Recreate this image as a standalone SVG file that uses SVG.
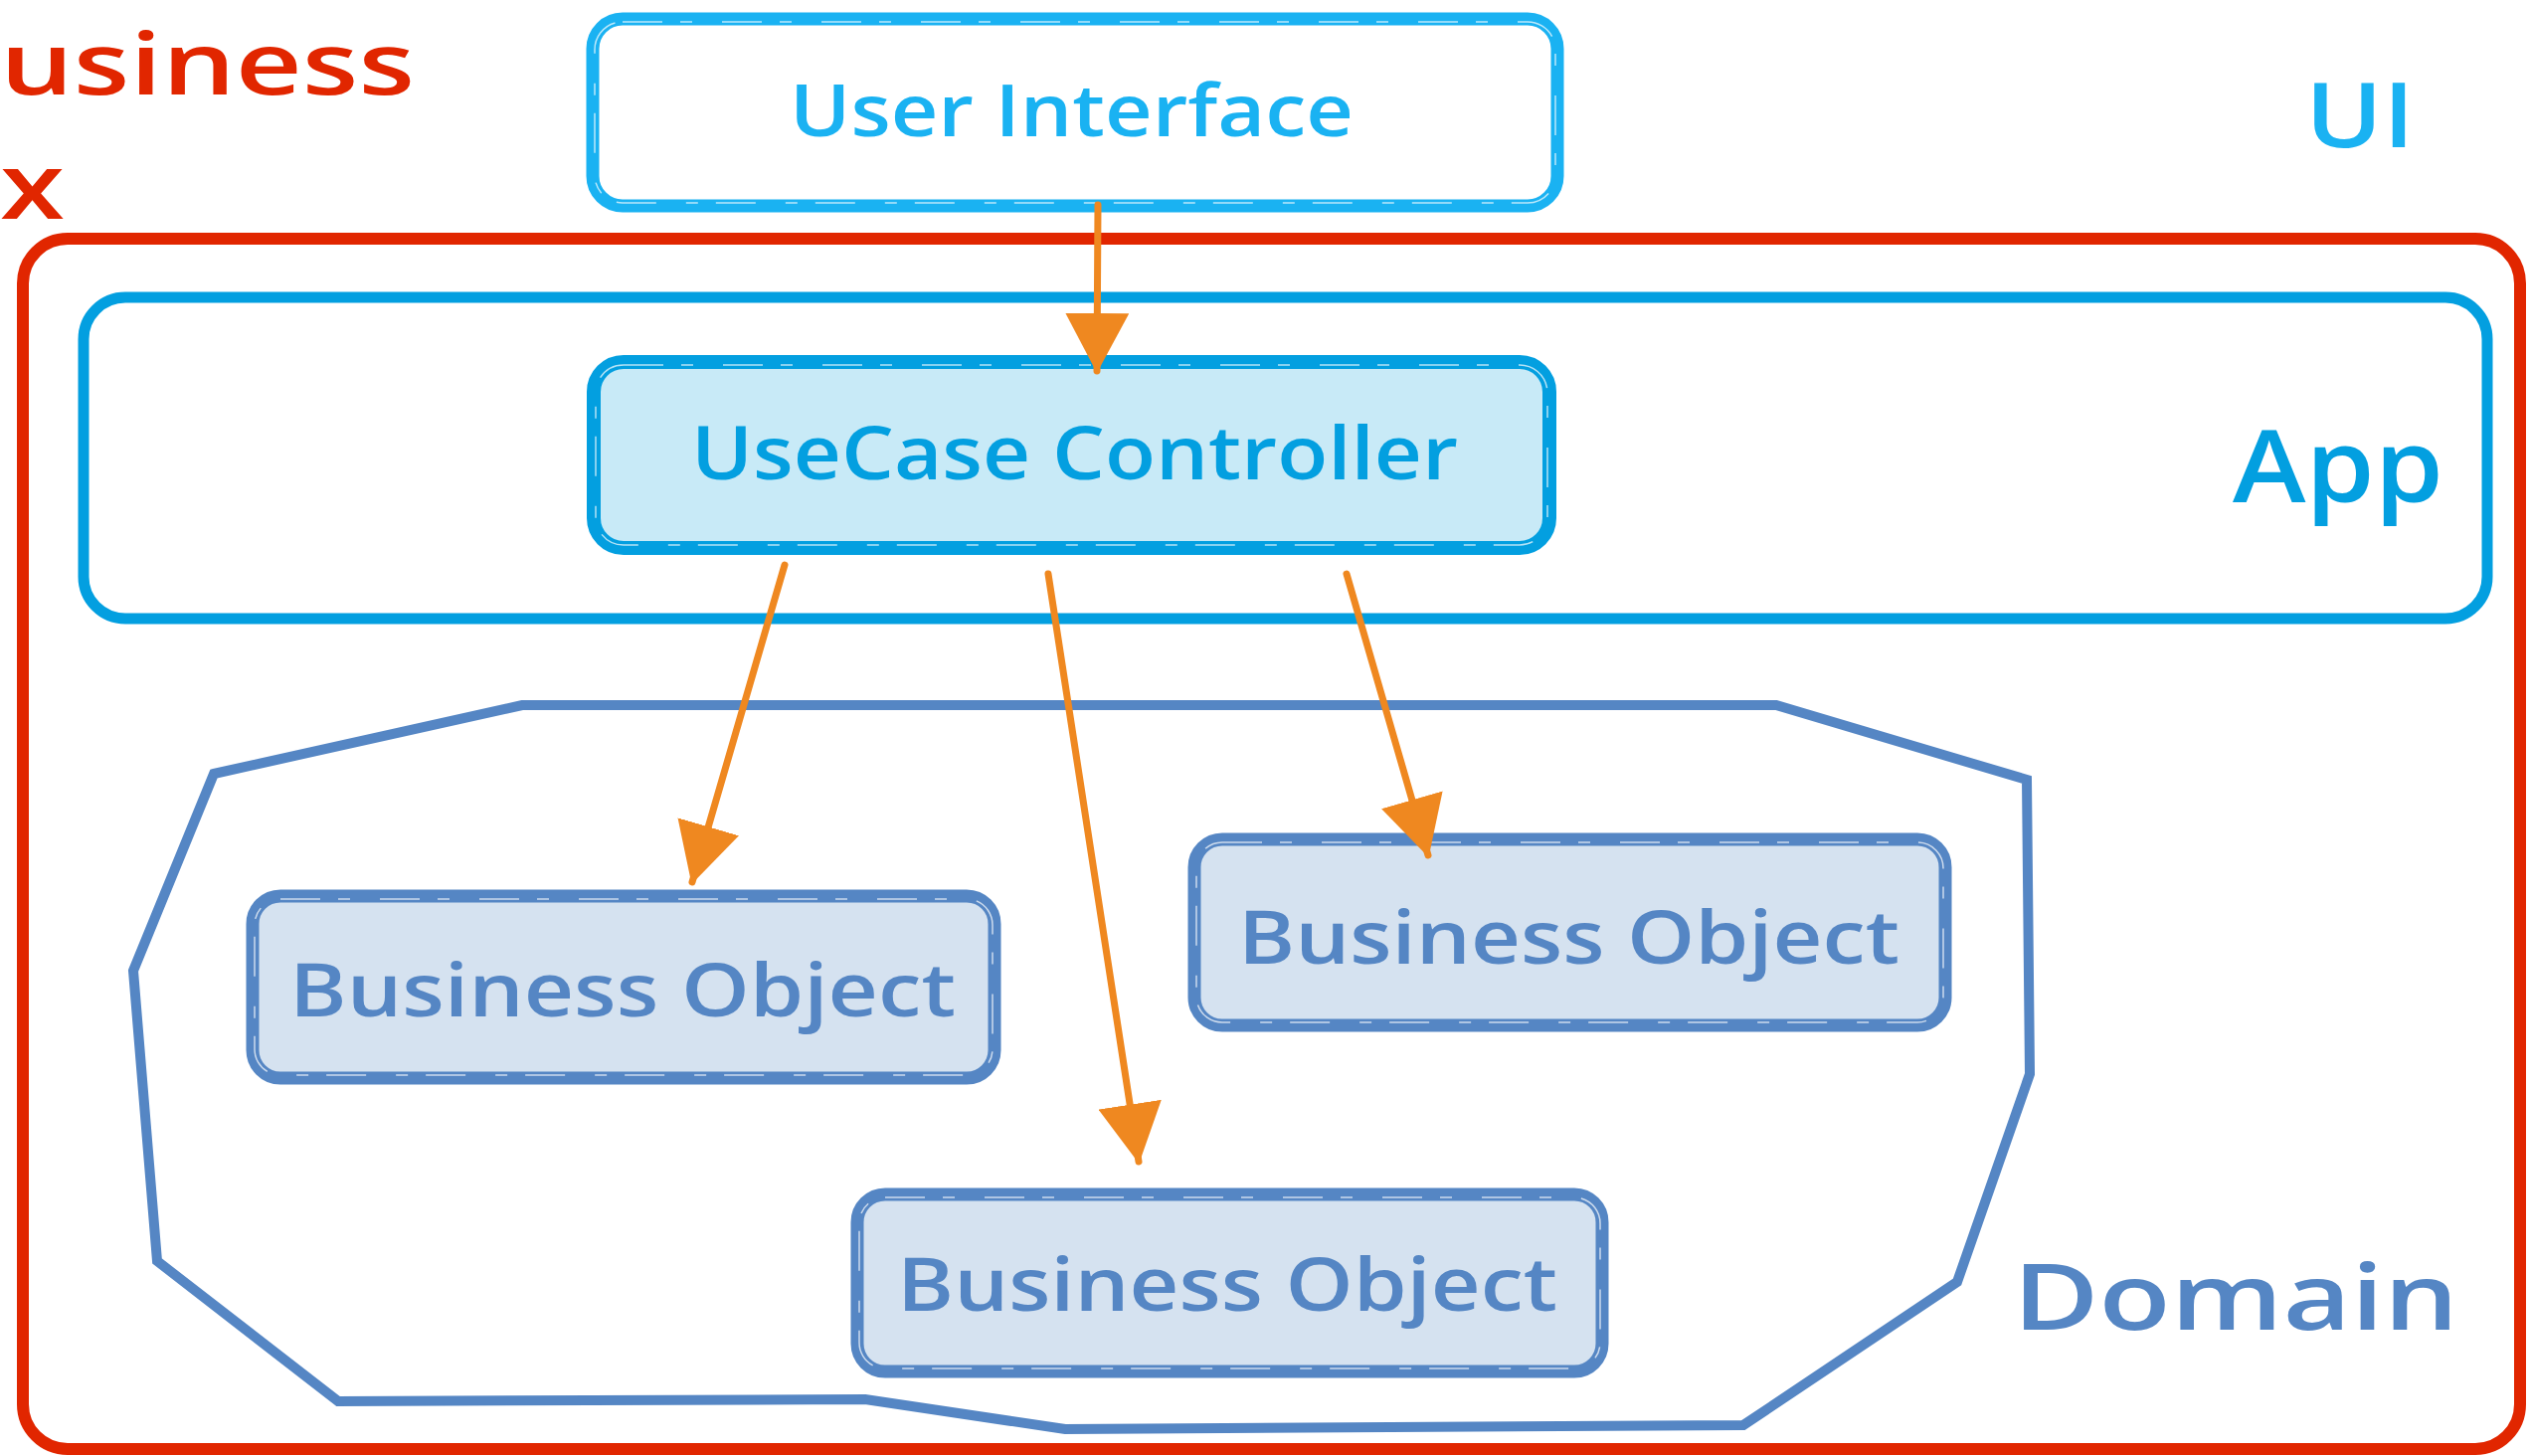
<svg xmlns="http://www.w3.org/2000/svg" width="2545" height="1464" viewBox="0 0 2545 1464">
  <defs>
    <style>
      text { font-family: "Open Sans", "Noto Sans", "DejaVu Sans", sans-serif; font-weight: 600; }
      .red { stroke: #E12600; fill: none; stroke-width: 12; }
      .red-t { fill: #E12600; }
      .ui { stroke: #1AB2F2; fill: #FFFFFF; stroke-width: 13; }
      .ui-t { fill: #1AB2F2; }
      .app { stroke: #039FE0; fill: none; stroke-width: 11; }
      .uc { stroke: #039FE0; fill: #C8EAF7; stroke-width: 14; }
      .app-t { fill: #039FE0; }
      .dom { stroke: #5586C4; fill: none; stroke-width: 10; stroke-linejoin: miter; }
      .bo { stroke: #5586C4; fill: #D5E2F0; stroke-width: 13; }
      .dom-t { fill: #5586C4; }
      .sketch { fill: none; stroke: #FFFFFF; stroke-width: 1.5; stroke-dasharray: 40 18 12 30; opacity: 0.7; }
      .flow { stroke: #EF8820; stroke-width: 7; fill: none; stroke-linecap: round; }
    </style>
    <marker id="head" viewBox="0 0 60 64" refX="58" refY="32" markerWidth="60" markerHeight="64" markerUnits="userSpaceOnUse" orient="auto">
      <path d="M0,0 L60,32 L0,64 Z" fill="#EF8820"/>
    </marker>
  </defs>

  <rect width="2545" height="1464" fill="#FFFFFF"/>

  <!-- business boundary -->
  <g id="business">
    <rect class="red" x="23" y="240" width="2511" height="1217" rx="45"/>
    <text class="red-t" x="0" y="95" font-size="86" textLength="417" lengthAdjust="spacingAndGlyphs">usiness</text>
    <text class="red-t" x="0" y="220" font-size="92" textLength="65" lengthAdjust="spacingAndGlyphs">x</text>
  </g>

  <!-- application layer -->
  <g id="app-layer">
    <rect class="app" x="84" y="299" width="2417" height="323" rx="42"/>
    <text class="app-t" x="2245" y="505" font-size="102" textLength="212" lengthAdjust="spacingAndGlyphs">App</text>
  </g>

  <!-- domain layer -->
  <g id="domain-layer">
    <polygon class="dom" points="215,778 525,709 1786,709 2038,784 2041,1080 1968,1289 1753,1433 1071,1437 870,1407 340,1409 158,1268 134,976"/>
    <text class="dom-t" x="2024" y="1337" font-size="92" textLength="448" lengthAdjust="spacingAndGlyphs">Domain</text>
  </g>

  <!-- UI layer label -->
  <g id="ui-layer">
    <text class="ui-t" x="2318" y="148" font-size="90" textLength="110" lengthAdjust="spacingAndGlyphs">UI</text>
  </g>

  <g id="user-interface">
    <rect class="ui" x="596" y="19" width="970" height="188" rx="30"/>
    <rect class="sketch" x="598" y="22" width="966" height="182" rx="28"/>
    <text class="ui-t" x="794" y="137" font-size="72" textLength="567" lengthAdjust="spacingAndGlyphs">User Interface</text>
  </g>

  <g id="usecase-controller">
    <rect class="uc" x="597" y="364" width="961" height="187" rx="30"/>
    <rect class="sketch" x="599" y="367" width="957" height="181" rx="28"/>
    <text class="app-t" x="695" y="482" font-size="74" textLength="771" lengthAdjust="spacingAndGlyphs">UseCase Controller</text>
  </g>

  <g id="business-object-1">
    <rect class="bo" x="254" y="901" width="746" height="183" rx="28"/>
    <rect class="sketch" x="256" y="904" width="742" height="177" rx="26"/>
    <text class="dom-t" x="291" y="1022" font-size="74" textLength="670" lengthAdjust="spacingAndGlyphs">Business Object</text>
  </g>

  <g id="business-object-2">
    <rect class="bo" x="1201" y="844" width="755" height="187" rx="28"/>
    <rect class="sketch" x="1203" y="847" width="751" height="181" rx="26"/>
    <text class="dom-t" x="1245" y="969" font-size="74" textLength="665" lengthAdjust="spacingAndGlyphs">Business Object</text>
  </g>

  <g id="business-object-3">
    <rect class="bo" x="862" y="1201" width="749" height="178" rx="28"/>
    <rect class="sketch" x="864" y="1204" width="745" height="172" rx="26"/>
    <text class="dom-t" x="902" y="1318" font-size="74" textLength="664" lengthAdjust="spacingAndGlyphs">Business Object</text>
  </g>

  <!-- dependency arrows -->
  <g id="connectors">
    <line class="flow" x1="1104" y1="206" x2="1103" y2="373" marker-end="url(#head)"/>
    <line class="flow" x1="789" y1="568" x2="696" y2="887" marker-end="url(#head)"/>
    <line class="flow" x1="1054" y1="577" x2="1145" y2="1168" marker-end="url(#head)"/>
    <line class="flow" x1="1354" y1="577" x2="1436" y2="860" marker-end="url(#head)"/>
  </g>
</svg>
